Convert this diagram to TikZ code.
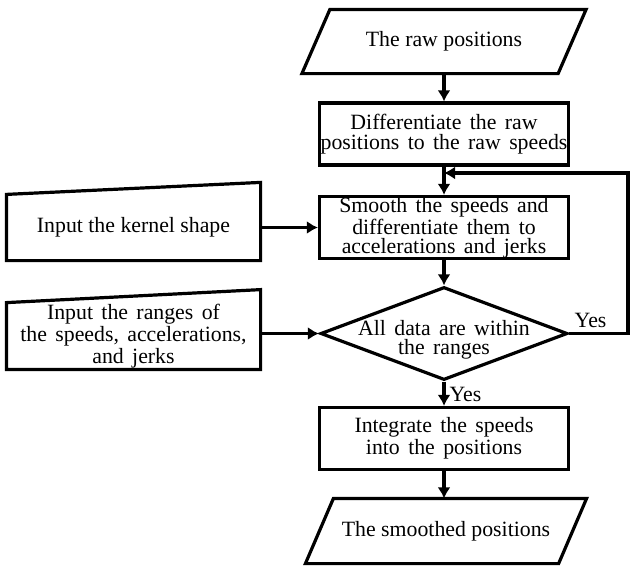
\documentclass[tikz,border=0pt]{standalone}
\usepackage{fontspec}
\setmainfont{Liberation Serif}
\usepackage{tikz}
\usetikzlibrary{arrows.meta,shapes.geometric}

\begin{document}
\begin{tikzpicture}[x=0.5pt,y=-0.5pt,line width=1.6pt,
		every node/.style={font=\fontsize{10.9}{9.7}\selectfont,inner sep=0pt,align=center},
		wide/.style={execute at begin node={\spaceskip=4.2pt plus 1pt}},
		proc/.style={draw,rectangle,minimum width=124.5pt,minimum height=31pt,wide},
		iobox/.style={rectangle,minimum width=126.5pt,minimum height=30.5pt},
		decide/.style={draw,diamond,minimum width=123.5pt,minimum height=46.5pt},
		arr/.style={-{Latex[length=5.5pt,width=6.5pt]}}]
		\useasboundingbox (0,0) rectangle (635,574);
		
		% main column
		\node[iobox] (raw) at (444,41.5) {The raw positions};
		\draw ([xshift=-7pt]raw.south west) -- ([xshift=-7pt]raw.south east)
		-- ([xshift=7pt]raw.north east) -- ([xshift=7pt]raw.north west) -- cycle;
		\node[proc] (diff) at (444,134) {Differentiate the raw\\positions to the raw speeds};
		\node[proc] (smooth) at (444,227.5) {Smooth the speeds and\\differentiate them to\\accelerations and jerks};
		\node[decide] (dia) at (444,333.5) {};
		\node[wide] (diatext) at ([yshift=-3pt]dia.center) {All data are within\\the ranges};
		\node[proc] (int) at (444,438.5) {Integrate the speeds\\into the positions};
		\node[iobox,minimum width=125pt,minimum height=31pt] (out) at (446,531) {The smoothed positions};
		\draw ([xshift=-7pt]out.south west) -- ([xshift=-7pt]out.south east)
		-- ([xshift=7pt]out.north east) -- ([xshift=7pt]out.north west) -- cycle;
		
		% manual inputs on the left
		\node[iobox,minimum width=125.5pt,minimum height=31.5pt] (kernel) at (133.5,227.5) {Input the kernel shape};
		\draw (kernel.south west) -- (kernel.south east) -- ([yshift=6pt]kernel.north east) -- (kernel.north west) -- cycle;
		\node[iobox,wide,minimum width=125.5pt,minimum height=31pt] (ranges) at (133.5,336) {Input the ranges of\\the speeds, accelerations,\\and jerks};
		\draw (ranges.south west) -- (ranges.south east) -- ([yshift=6.5pt]ranges.north east) -- (ranges.north west) -- cycle;
		
		% flow
		\draw[arr] (raw.south) -- (diff.north);
		\draw[arr] (diff.south) -- (smooth.north);
		\draw[arr] (smooth.south) -- (dia.north);
		\draw[arr] (dia.south) -- (int.north);
		\draw[arr] (int.south) -- (int.south |- out.north);
		\draw[arr] (kernel.east) -- (kernel.east -| smooth.west);
		\draw[arr] (ranges.east |- dia.west) -- (dia.west);
		
		% loop back when the data are within the ranges
		\coordinate (loop) at (628,173);
		\draw[arr] (dia.east) -| (loop) -- (diff.south |- loop);
		\node[anchor=south west,inner sep=2pt] (yesloop) at (dia.east) {Yes};
		\node[anchor=north west,inner sep=2pt] (yesdown) at (dia.south) {Yes};
	\end{tikzpicture}
\end{document}
